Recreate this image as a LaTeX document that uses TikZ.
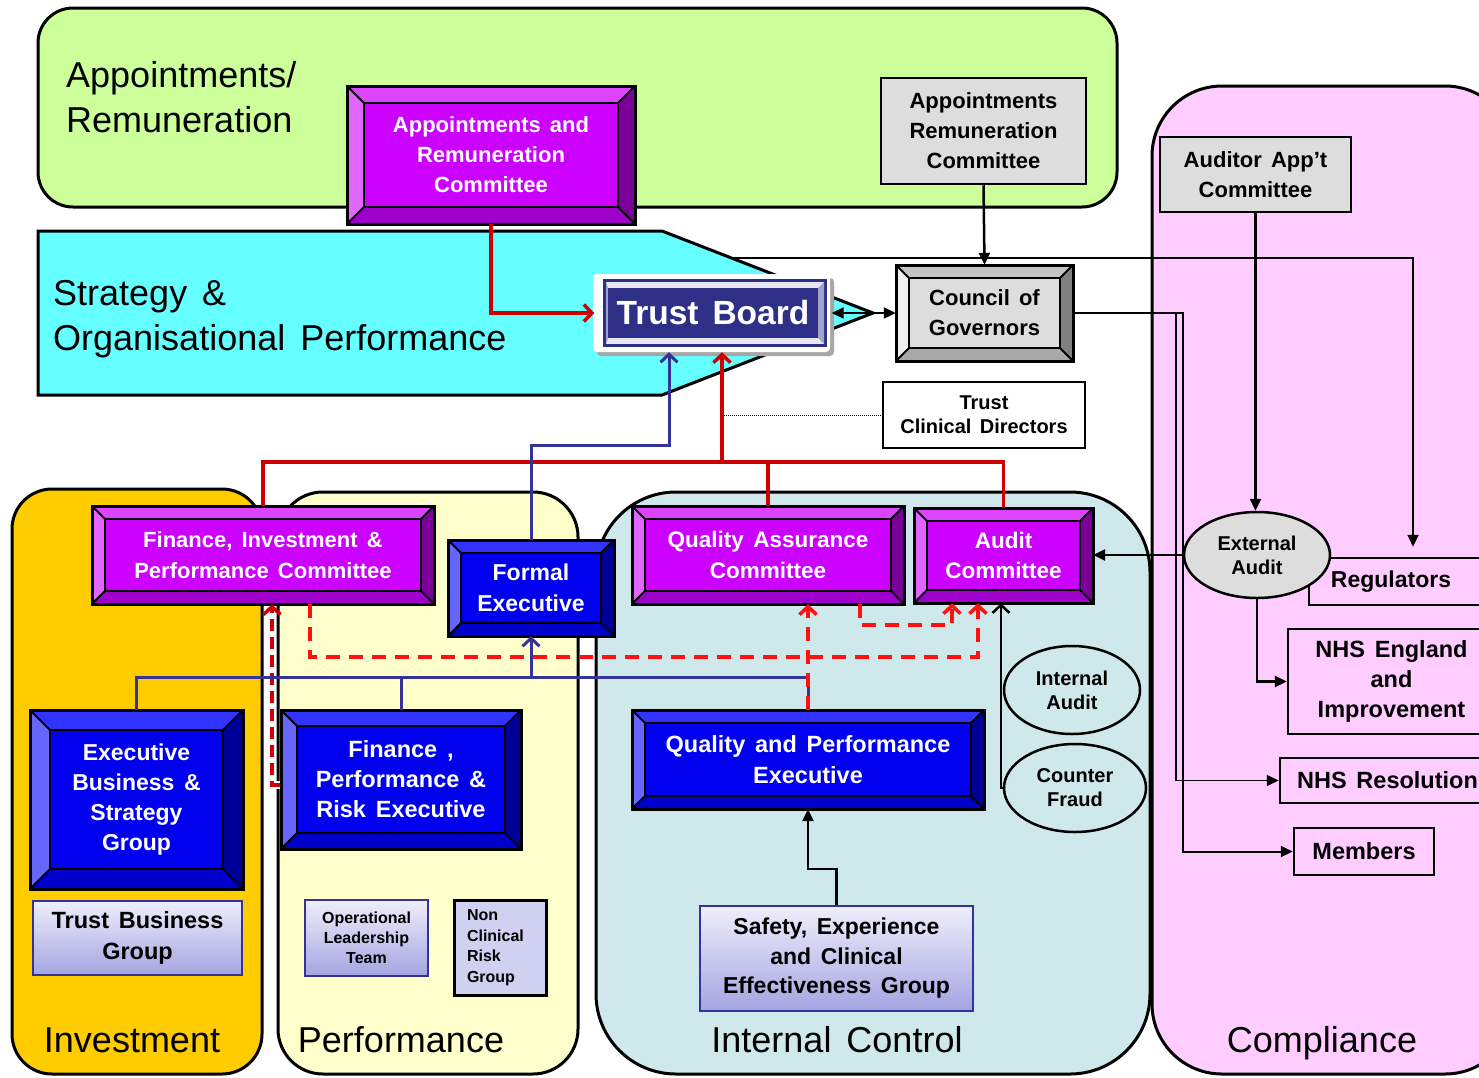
\documentclass[tikz,border=0pt]{standalone}
\usepackage{fontspec}
\setmainfont{Liberation Sans}[WordSpace=1.5]
\usetikzlibrary{arrows.meta,calc,shapes.geometric}
\pgfdeclarelayer{bg}\pgfdeclarelayer{under}\pgfdeclarelayer{pent}
\pgfsetlayers{bg,under,pent,main}
\newcommand\fs[2]{\fontsize{#1}{#2}\selectfont}
\definecolor{cGreen}{HTML}{CCFF99}
\definecolor{cCyan}{HTML}{66FFFF}
\definecolor{cOrange}{HTML}{FFCC00}
\definecolor{cLY}{HTML}{FFFFCC}
\definecolor{cLB}{HTML}{CFE8EB}
\definecolor{cPink}{HTML}{FFCCFF}
\definecolor{cRed}{HTML}{CC0000}
\definecolor{cRedD}{HTML}{FF1111}
\definecolor{cLine}{HTML}{333399}
\definecolor{cNavy}{HTML}{2E3087}
\definecolor{gTop}{HTML}{EEEEFB}
\definecolor{gBot}{HTML}{A4A4E2}
\definecolor{gface}{HTML}{DDDDDD}
% purple bevel
\definecolor{PF}{HTML}{CC00FF}\definecolor{PT}{HTML}{DD44FF}\definecolor{PL}{HTML}{E066FF}
\definecolor{PR}{HTML}{7A0099}\definecolor{PB}{HTML}{A000CC}
% blue bevel
\definecolor{BF}{HTML}{0000EE}\definecolor{BT}{HTML}{3333FF}\definecolor{BL}{HTML}{6666FF}
\definecolor{BR}{HTML}{000099}\definecolor{BB}{HTML}{0000CC}
% gray bevel
\definecolor{GF}{HTML}{DDDDDD}\definecolor{GT}{HTML}{C4C4C4}\definecolor{GL}{HTML}{F0F0F0}
\definecolor{GR}{HTML}{808080}\definecolor{GB}{HTML}{A8A8A8}
\tikzset{
 region/.style={draw=black, line width=3pt},
 bevline/.style={draw=black, line width=2pt},
 bevouter/.style={draw=black, line width=3pt},
 bevtext/.style={text=white, inner sep=0, align=center},
 pbox/.style={draw=black, line width=2.5pt, inner sep=0, align=center, font=\bfseries\fs{22}{30}},
 gbox/.style={draw=cLine, line width=2.5pt, top color=gTop, bottom color=gBot, inner sep=0, align=center},
 redln/.style={draw=cRed, line width=3.5pt},
 blueln/.style={draw=cLine, line width=3pt},
 reddash/.style={draw=cRedD, line width=3.5pt, dash pattern=on 14pt off 9pt},
 blk/.style={draw=black, line width=2.5pt},
 lbl/.style={inner sep=0, font=\fs{36}{45}},
 mybarb/.tip={Straight Barb[length=8pt,width=17pt]},
 mytri/.tip={Triangle[length=12pt,width=11pt]},
}
% #1 name, #2 x1, #3 y1, #4 x2, #5 y2, #6 bevel, #7 scheme, #8 node options, #9 text
\newcommand\bev[9]{%
 \fill[#7T] (#2,#3) -- (#4,#3) -- (#4-#6,#3+#6) -- (#2+#6,#3+#6) -- cycle;
 \fill[#7L] (#2,#3) -- (#2+#6,#3+#6) -- (#2+#6,#5-#6) -- (#2,#5) -- cycle;
 \fill[#7R] (#4,#3) -- (#4-#6,#3+#6) -- (#4-#6,#5-#6) -- (#4,#5) -- cycle;
 \fill[#7B] (#2,#5) -- (#2+#6,#5-#6) -- (#4-#6,#5-#6) -- (#4,#5) -- cycle;
 \fill[#7F] (#2+#6,#3+#6) rectangle (#4-#6,#5-#6);
 \draw[bevline] (#2,#3) -- (#2+#6,#3+#6) (#4,#3) -- (#4-#6,#3+#6) (#2,#5) -- (#2+#6,#5-#6) (#4,#5) -- (#4-#6,#5-#6);
 \draw[bevline] (#2+#6,#3+#6) rectangle (#4-#6,#5-#6);
 \draw[bevouter] (#2,#3) rectangle (#4,#5);
 \node[bevtext, #8, minimum width={(#4-#2)*1pt}, minimum height={(#5-#3)*1pt}] (#1) at ({(#2+#4)/2},{(#3+#5)/2}) {#9};
}
\begin{document}
\begin{tikzpicture}[x=1pt,y=-1pt]
\clip (0,0) rectangle (1479,1077);
\begin{pgfonlayer}{bg}
\fill[white] (0,0) rectangle (1479,1077);
\draw[region, fill=cGreen, rounded corners=35] (38,8) rectangle (1117,207);
\draw[region, fill=cPink, rounded corners=70] (1152,86) rectangle (1515,1074);
\draw[region, fill=cOrange, rounded corners=40] (12,489) rectangle (262,1074);
\draw[region, fill=cLY, rounded corners=45] (278,492) rectangle (578,1074);
\draw[region, fill=cLB, rounded corners=80] (596,492) rectangle (1150,1074);
\end{pgfonlayer}
\begin{pgfonlayer}{pent}
\draw[region, fill=cCyan, line join=miter] (38,231) -- (662,231) -- (873,313) -- (662,395) -- (38,395) -- cycle;
\end{pgfonlayer}
% region labels
\node[lbl, anchor=base west] (lA1) at (66,87) {Appointments/};
\node[lbl, anchor=base west] (lA2) at (66,132) {Remuneration};
\node[lbl, anchor=base west] (lS1) at (53,305) {Strategy \&};
\node[lbl, anchor=base west] (lS2) at (53,350) {Organisational Performance};
\node[lbl, anchor=base] (lI) at (132,1052) {Investment};
\node[lbl, anchor=base] (lP) at (401,1052) {Performance};
\node[lbl, anchor=base] (lIC) at (837,1052) {Internal Control};
\node[lbl, anchor=base] (lC) at (1322,1052) {Compliance};
% bevel boxes
\bev{arc}{347}{86}{635}{224}{17}{P}{font=\bfseries\fs{22}{30}}{Appointments and\\Remuneration\\Committee}
\bev{fipc}{92}{506}{434}{604}{13}{P}{font=\bfseries\fs{22}{31}}{Finance, Investment \&\\Performance Committee}
\bev{qac}{632}{506}{904}{604}{13}{P}{font=\bfseries\fs{22.5}{31}}{Quality Assurance\\Committee}
\bev{audit}{914}{508}{1093}{603}{13}{P}{font=\bfseries\fs{22.5}{30}}{Audit\\Committee}
\bev{fe}{448}{540}{614}{636}{13}{B}{font=\bfseries\fs{23}{31}}{Formal\\Executive}
\bev{ebsg}{30}{710}{243}{889}{20}{B}{font=\bfseries\fs{23}{30}}{Executive\\Business \&\\Strategy\\Group}
\bev{fpre}{281}{710}{521}{849}{16}{B}{font=\bfseries\fs{23.5}{30}}{Finance ,\\Performance \&\\Risk Executive}
\bev{qpe}{632}{710}{984}{809}{13}{B}{font=\bfseries\fs{23.5}{31}}{Quality and Performance\\Executive}
\bev{cog}{896}{265}{1073}{361}{13}{G}{text=black, font=\bfseries\fs{22}{30}}{Council of\\Governors}
% Trust Board
\fill[black!35, rounded corners=4] (597,278) rectangle (834,356);
\fill[white, rounded corners=4] (593,274) rectangle (830,352);
\fill[cNavy] (603,279) rectangle (827,347);
\fill[white!88!cNavy] (606,282) rectangle (824,344);
\fill[white!55!cNavy] (606,282) -- (608,288) -- (608,338) -- (606,344) -- cycle;
\fill[white!55!cNavy] (824,282) -- (818,288) -- (818,338) -- (824,344) -- cycle;
\fill[cNavy] (608,288) rectangle (818,338);
\node[text=white, inner sep=0, minimum width=237, minimum height=78, font=\bfseries\fs{33.5}{40}] (tb) at (713,313) {Trust Board};
% plain boxes
\node[pbox, fill=gface, minimum width=205, minimum height=106] (garc) at (983.5,131) {Appointments\\Remuneration\\Committee};
\node[pbox, fill=gface, minimum width=191, minimum height=75] (aac) at (1255.5,174.5) {Auditor App’t\\Committee};
\node[pbox, fill=white, minimum width=202, minimum height=66, font=\bfseries\fs{20}{24}] (tcd) at (984,415) {Trust\\Clinical Directors};
\node[pbox, fill=cPink, minimum width=186, minimum height=47, font=\bfseries\fs{23}{30}] (reg) at (1402,581.5) {\hspace*{-22pt}Regulators};
\node[pbox, fill=cPink, minimum width=207, minimum height=105, font=\bfseries\fs{23.5}{30}] (nhse) at (1391.5,681.5) {NHS England\\and\\Improvement};
\node[pbox, fill=cPink, minimum width=215, minimum height=45, font=\bfseries\fs{23.5}{30}] (nhsr) at (1387.5,780.5) {NHS Resolution};
\node[pbox, fill=cPink, minimum width=140, minimum height=47, font=\bfseries\fs{23.5}{30}] (mem) at (1364,851.5) {Members};
% ellipses
\node[ellipse, draw, line width=2.5pt, fill=gface, minimum width=146, minimum height=86, inner sep=0, align=center, font=\bfseries\fs{20}{24}] (ea) at (1257,555) {External\\Audit};
\node[ellipse, draw, line width=2.5pt, fill=cLB, minimum width=136, minimum height=88, inner sep=0, align=center, font=\bfseries\fs{20}{24}] (ia) at (1072,690) {Internal\\Audit};
\node[ellipse, draw, line width=2.5pt, fill=cLB, minimum width=142, minimum height=88, inner sep=0, align=center, font=\bfseries\fs{20}{24}] (cf) at (1075,788) {Counter\\Fraud};
% gradient boxes
\node[gbox, minimum width=209, minimum height=74, font=\bfseries\fs{23.5}{31}] (tbg) at (137.5,938) {Trust Business\\Group};
\node[gbox, minimum width=123, minimum height=76, font=\bfseries\fs{16}{20}] (olt) at (366.5,938) {Operational\\Leadership\\Team};
\node[gbox, draw=black, line width=3pt, top color=gTop!60!gBot, bottom color=gTop!60!gBot, minimum width=92, minimum height=95, text width=66, align=left, font=\bfseries\fs{16}{20.5}] (ncrg) at (500,947.5) {Non\\Clinical\\Risk\\Group};
\node[gbox, minimum width=273, minimum height=105, font=\bfseries\fs{23}{29.5}] (seg) at (836.5,958.5) {Safety, Experience\\and Clinical\\Effectiveness Group};
% coordinates
\coordinate (rj) at (722,462);
\coordinate (bj) at (669,445);
\coordinate (rg) at (1413,258);
\coordinate (c1) at (1183,313);
\coordinate (c2) at (1176,313);
% line under the pentagon
\begin{pgfonlayer}{under}
\draw[blk, line width=2pt, -mytri, shorten >=10pt] (tb.north) |- (rg) -- (rg |- reg.north);
\end{pgfonlayer}
% red solid
\draw[redln, -mybarb] (arc.south) |- (tb.west);
\draw[redln] (fipc.north) -- ++(0,-44) -| (audit.north);
\draw[redln] (qac.north) -- ++(0,-44);
\draw[redln, -mybarb] (rj) -- (rj |- tb.south);
% red dashed (left, with white outline)
\coordinate (d3) at (280,785);
\draw[white, line width=8pt] (d3) -- ++(-8,0) -- ($(fipc.south)+(9,4)$);
\draw[cRed, line width=3.5pt, dash pattern=on 12pt off 6pt, -mybarb] (d3) -- ++(-8,0) -- ($(fipc.south)+(9,0)$);
% blue
\draw[blueln, -mybarb] (fe.north) |- (bj) -- (bj |- tb.south);
\draw[blueln] (ebsg.north) -- ++(0,-32) -| (qpe.north);
\draw[blueln] (fpre.north) -- ++(0,-32);
\draw[blueln, -mybarb] ($(fe.south)+(0,42)$) -- (fe.south);
% red dashed
\draw[reddash, -mybarb] ($(fipc.south)+(47,0)$) -- ++(0,53) -| ($(audit.south)+(-25.5,0)$);
\draw[reddash, -mybarb] ($(qac.south)+(92,0)$) -- ++(0,21) -| ($(audit.south)+(-51.5,0)$);
\draw[reddash, -mybarb] (qpe.north) -- (qpe.north |- qac.south);
% black
\draw[blk, -mytri] (garc.south) -- (cog.north);
\draw[blk, line width=2pt, mytri-mytri] (tb.east) -- (cog.west);
\draw[blk, line width=2pt, -mytri] (cog.east) -- (c1) |- (mem.west);
\draw[blk, line width=1.5pt, -mytri] (c2) |- (nhsr.west);
\draw[blk, -mytri] (aac.south) -- (aac.south |- ea.north);
\draw[blk, -mytri] (ea.west) -- (ea.west -| audit.east);
\draw[blk, -mytri] (ea.south) |- (nhse.west);
\draw[blk, -mybarb] (cf.west) -| ($(audit.south)+(-2.5,0)$);
\draw[blk, -mytri] (seg.north) -- ++(0,-36) -| (qpe.south);
\draw[black, line width=1pt, densely dotted] (rj |- tcd.west) -- (tcd.west);
\end{tikzpicture}
\end{document}
